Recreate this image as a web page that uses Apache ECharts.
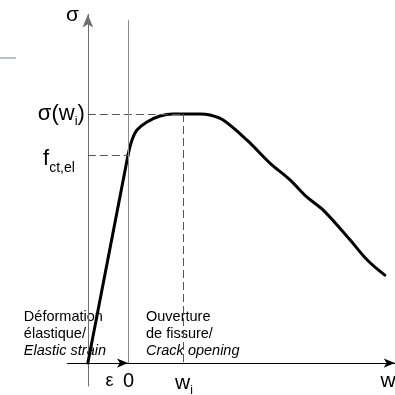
<!DOCTYPE html>
<html>
<head>
<meta charset="utf-8">
<script src="https://cdn.jsdelivr.net/npm/echarts@6/dist/echarts.min.js"></script>
<style>
html, body { margin: 0; padding: 0; background: #fff; }
#chart { width: 395px; height: 395px; }
</style>
</head>
<body>
<div id="chart"></div>
<script>
// partie elastique (droite) puis ouverture de fissure (courbe)
// unites : w_i = 1, sigma(w_i) = 1
var elasticX = [-0.73, 0];
var elasticY = [0, 0.835];
var crackX = [0, 0.073, 0.164, 0.345, 0.582, 0.818, 1.0, 1.31, 1.49, 1.73, 2.16, 2.58, 2.95, 3.25, 3.55, 4.04, 4.35, 4.67];
var crackY = [0.835, 0.896, 0.936, 0.968, 0.992, 1.0, 1.0, 1.0, 0.996, 0.976, 0.896, 0.803, 0.735, 0.667, 0.614, 0.494, 0.414, 0.353];

var sigmaAxisX = -0.73;   // position de l'axe sigma
var epsStart = -1.1;      // debut de l'axe epsilon
var wi = 1.0;
var wMax = 4.85;
var sigmaWi = 1.0;
var fctEl = 0.835;
var zeroLineTop = 1.377;

var blockLeft = ['Déformation', 'élastique/', 'Elastic strain'];
var blockRight = ['Ouverture', 'de fissure/', 'Crack opening'];

function pairs(xs, ys) { return xs.map(function (x, i) { return [x, ys[i]]; }); }

var chart = echarts.init(document.getElementById('chart'));
var font = '"Liberation Sans", Arial, sans-serif';

chart.setOption({
    animation: false,
    grid: { left: 67.5, right: 0.25, top: 14.4, bottom: 9 },
    xAxis: {
        type: 'value', min: epsStart, max: wMax,
        splitLine: { show: false },
        axisTick: { show: false },
        axisLabel: { show: false },
        axisLine: {
            onZero: true,
            symbol: ['none', 'arrow'], symbolSize: [7, 11],
            lineStyle: { color: '#000', width: 1 }
        }
    },
    yAxis: {
        type: 'value', min: -0.092, max: 1.4,
        offset: -20.35,
        splitLine: { show: false },
        axisTick: { show: false },
        axisLabel: { show: false },
        axisLine: {
            onZero: false,
            symbol: ['none', 'arrow'], symbolSize: [8, 13],
            lineStyle: { color: '#6e6e6e', width: 1 }
        }
    },
    series: [
        {
            type: 'line',
            data: pairs(elasticX, elasticY),
            showSymbol: false,
            lineStyle: { color: '#000', width: 3, cap: 'round' },
            markLine: {
                silent: true,
                symbol: 'none',
                label: { show: false },
                data: [
                    [{ coord: [sigmaAxisX, sigmaWi] }, { coord: [wi, sigmaWi] }],
                    [{ coord: [sigmaAxisX, fctEl] }, { coord: [0, fctEl] }],
                    [{ coord: [wi, sigmaWi] }, { coord: [wi, 0] }],
                    [{ coord: [0, zeroLineTop], lineStyle: { type: 'solid', color: '#8c8c8c', width: 1 } }, { coord: [0, 0] }],
                    [{ coord: [epsStart, 0], symbol: 'none', lineStyle: { type: 'solid', color: '#000', width: 1 } },
                     { coord: [0, 0], symbol: 'arrow', symbolSize: [7, 11] }]
                ],
                lineStyle: { type: [8, 4], color: '#555', width: 1 }
            }
        },
        {
            type: 'line',
            data: pairs(crackX, crackY),
            smooth: 0.35,
            showSymbol: false,
            lineStyle: { color: '#000', width: 3, cap: 'round' }
        }
    ]
});

function px(x, y) { return chart.convertToPixel({ gridIndex: 0 }, [x, y]); }

var pAxisTop = px(sigmaAxisX, 1.4);
var pSw = px(sigmaAxisX, sigmaWi);
var pFct = px(sigmaAxisX, fctEl);
var pZero = px(0, 0);
var pWi = px(wi, 0);
var pW = px(wMax, 0);
var pStart = px(sigmaAxisX, 0);

function txt(x, y, text, size, align, extra) {
    var s = { text: text, x: x, y: y, font: size + 'px ' + font, fill: '#000', align: align || 'left', verticalAlign: 'middle' };
    if (extra) { for (var k in extra) s[k] = extra[k]; }
    return { type: 'text', style: s, silent: true };
}

var g = [
    // petit trait gris en haut a gauche
    { type: 'line', shape: { x1: 0, y1: 58, x2: 16, y2: 58 }, style: { stroke: '#a3adb2', lineWidth: 1.5 }, silent: true },
    txt(pAxisTop[0] - 9, pAxisTop[1] + 1, 'σ', 21, 'right'),
    txt(pSw[0] - 3, pSw[1], '{a|σ(w}{s|i}{a|)}', 22, 'right', {
        rich: { a: { fontSize: 22, fontFamily: font }, s: { fontSize: 13, fontFamily: font, padding: [15, 0, 0, 0] } }
    }),
    txt(pFct[0] - 13, pFct[1] + 4, '{a|f}{s|ct,el}', 22, 'right', {
        rich: { a: { fontSize: 22, fontFamily: font }, s: { fontSize: 14, fontFamily: font, padding: [19, 0, 0, 0] } }
    }),
    txt(pZero[0] - 18.5, pZero[1] + 18, 'ε', 18, 'center'),
    txt(pZero[0] + 0.5, pZero[1] + 18, '0', 20, 'center'),
    txt(pWi[0] + 1, pWi[1] + 20, '{a|w}{s|i}', 21, 'center', {
        rich: { a: { fontSize: 21, fontFamily: font }, s: { fontSize: 12, fontFamily: font, padding: [15, 0, 0, 0] } }
    }),
    txt(pW[0] + 1, pW[1] + 18, 'w', 21, 'right')
];

for (var i = 0; i < 3; i++) {
    var f = (i === 2 ? 'italic ' : '') + '14.5px ' + font;
    g.push(txt(pStart[0] - 64, pStart[1] - 46 + i * 17, blockLeft[i], 14.5, 'left', { font: f }));
    g.push(txt(pZero[0] + 18, pStart[1] - 46 + i * 17, blockRight[i], 14.5, 'left', { font: f }));
}

chart.setOption({ graphic: g });
</script>
</body>
</html>
